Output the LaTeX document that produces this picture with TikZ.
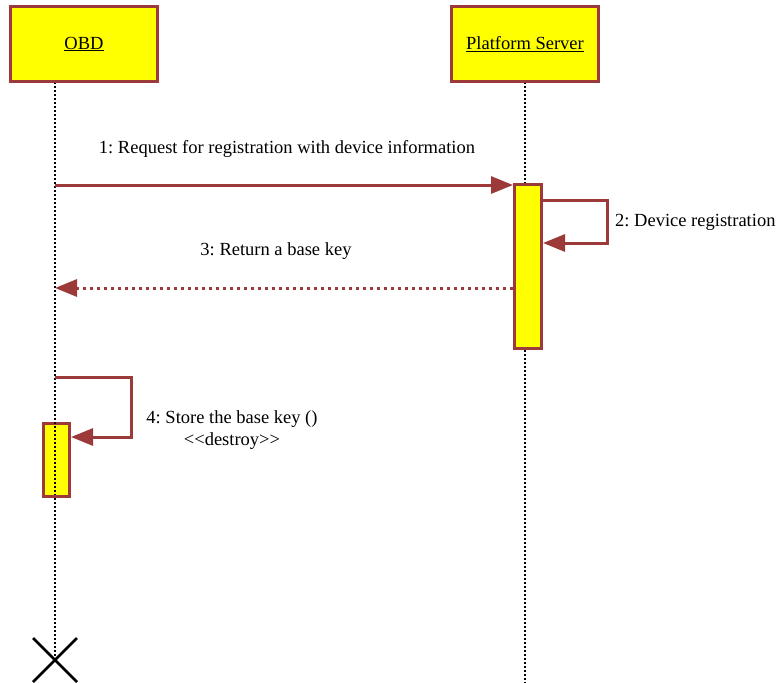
\documentclass[tikz,border=0pt]{standalone}
\usepackage{fontspec}
\setmainfont{Liberation Serif}
\usetikzlibrary{arrows.meta}
\definecolor{bord}{RGB}{155,58,56}
\definecolor{yel}{RGB}{255,255,0}
\begin{document}
\begin{tikzpicture}[x=1pt,y=-1pt,
  lifebox/.style={draw=bord,fill=yel,line width=3pt,minimum width=147pt,minimum height=75pt,inner sep=0pt,font=\fontsize{18.5}{22}\selectfont},
  actbox/.style={draw=bord,fill=yel,line width=3pt,inner sep=0pt,anchor=north west},
  lifeline/.style={black,line width=1.5pt,dash pattern=on 2pt off 2pt},
  msg/.style={bord,line width=3pt,-{Triangle[length=22pt,width=17pt]}},
  retmsg/.style={bord,line width=3pt,dash pattern=on 3.5pt off 3.5pt,-{Triangle[length=22pt,width=17pt]}},
  lbl/.style={font=\fontsize{18.5}{22}\selectfont,inner sep=0pt}]
\frenchspacing
\useasboundingbox (0,0) rectangle (780,683);
% lifelines
\coordinate (obdtop) at (55,82);
\coordinate (obdend) at (55,660);
\coordinate (srvtop) at (525,82);
\coordinate (srvend) at (525,683);
\draw[lifeline] (obdtop) -- (obdend);
\draw[lifeline] (srvtop) -- (srvend);
% header boxes
\node[lifebox] (obd) at (84,44) {\frenchspacing\underline{OBD}};
\node[lifebox] (srv) at (525,44) {\frenchspacing\underline{Platform Server}};
% activations
\node[actbox,minimum width=27pt,minimum height=164pt] (sact) at (513,183) {};
\node[actbox,minimum width=26pt,minimum height=73pt] (oact) at (42,422) {};
\draw[lifeline] (55,422) -- (55,495);
% message 1
\coordinate (m1s) at (55,185);
\draw[msg] (m1s) -- (sact.north west |- m1s);
\node[lbl] (l1) at (287,148.5) {\frenchspacing 1: Request for registration with device information};
% message 2 (self)
\coordinate (m2a) at (sact.east |- 0,200);
\coordinate (m2b) at (607,200);
\coordinate (m2c) at (607,243);
\coordinate (m2d) at (sact.east |- 0,243);
\draw[msg] (m2a) -- (m2b) -- (m2c) -- (m2d);
\node[lbl,anchor=west] (l2) at (615,222.5) {\frenchspacing 2: Device registration};
% message 3 (return)
\coordinate (m3s) at (513,288);
\coordinate (m3e) at (55,288);
\draw[retmsg] (m3s) -- (m3e);
\node[lbl] (l3) at (276,251.5) {\frenchspacing 3: Return a base key};
% message 4 (self)
\coordinate (m4a) at (55,377);
\coordinate (m4b) at (131,377);
\coordinate (m4c) at (131,437);
\coordinate (m4d) at (oact.east |- 0,437);
\draw[msg] (m4a) -- (m4b) -- (m4c) -- (m4d);
\node[lbl,align=center] (l4) at (232,430) {\frenchspacing 4: Store the base key ()\\<\kern0pt<destroy>\kern0pt>};
% destroy
\draw[black,line width=2.5pt] (33,638) -- (77,682) (33,682) -- (77,638);
\end{tikzpicture}
\end{document}
